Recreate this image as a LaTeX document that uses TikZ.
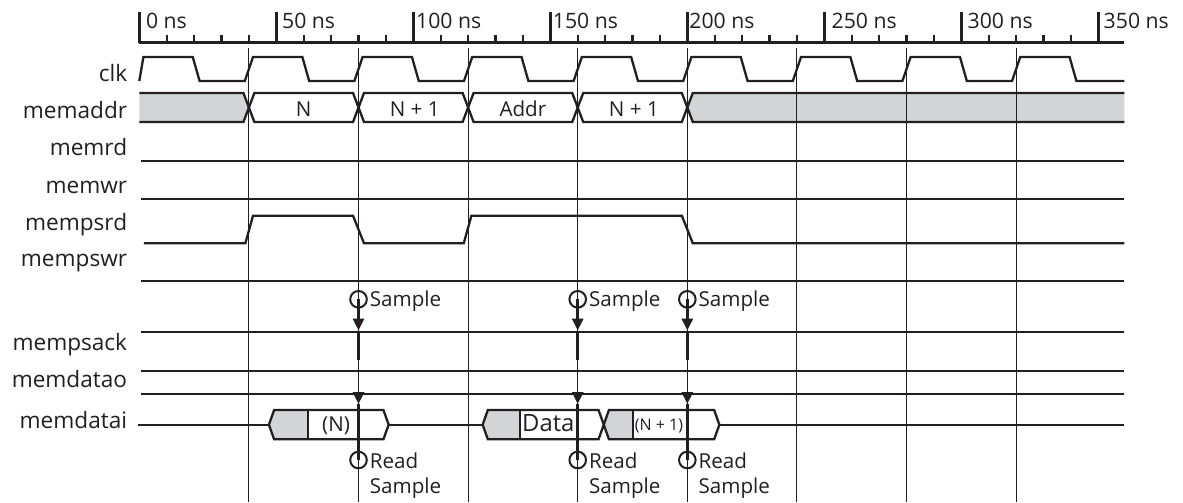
\documentclass[tikz,border=0pt]{standalone}
\usepackage{fontspec}
\setmainfont{Open Sans}
\usetikzlibrary{arrows.meta}
\definecolor{ink}{RGB}{35,31,32}
\definecolor{busgray}{RGB}{211,212,214}

\begin{document}
\begin{tikzpicture}[x=1.37pt, y=-0.5pt, color=ink,
        wave/.style={line width=1.15pt, line join=miter},
        gridline/.style={line width=0.5pt},
        siglabel/.style={anchor=base east, inner sep=0pt, font=\fontsize{11.3}{13}\selectfont},
        timelabel/.style={anchor=base west, inner sep=0pt, font=\fontsize{10.6}{12}\selectfont},
        buslabel/.style={anchor=base, inner sep=0pt, font=\fontsize{10.3}{12}\selectfont},
        smpcircle/.style={draw, circle, line width=1pt, minimum size=8.3pt, inner sep=0pt},
        smptext/.style={anchor=base west, inner sep=0pt, font=\fontsize{10.3}{12}\selectfont},
        smpline/.style={line width=1.75pt},
        smparrow/.style={line width=1.75pt, -{Triangle[length=6pt 0,width=5.5pt 0]}}]
        \useasboundingbox (-50.84,0) rectangle (380.9,502);

        % Draw time ruler
        \draw[line width=1.5pt] (0,43) -- (359.5,43);
        \foreach \t in {10,20,...,340}
            \draw[line width=1.2pt] (\t,35) -- (\t,43);
        \foreach \t/\o in {0/6.4,50/5.5,100/2.5,150/2.2,200/1.7,250/7,300/6,350/5} {
            \draw[line width=1.5pt] (\t,12) -- (\t,43);
            \node[timelabel] at ([xshift=\o*0.5pt]\t,28.3) {\t\ ns};
        }

        % Signal names
        \node[siglabel] (lclk) at (-4.3,81.7) {clk};
        \node[siglabel] (laddr) at (-4.3,118.3) {memaddr};
        \node[siglabel] (lrd) at (-4.3,155) {memrd};
        \node[siglabel] (lwr) at (-4.3,193.3) {memwr};
        \node[siglabel] (lpsrd) at (-4.3,230) {mempsrd};
        \node[siglabel] (lpswr) at (-4.3,266.7) {mempswr};
        \node[siglabel] (lack) at (-4.3,350) {mempsack};
        \node[siglabel] (ldo) at (-4.3,387.3) {memdatao};
        \node[siglabel] (ldi) at (-4.3,428.3) {memdatai};

        % Bus fills
        \fill[busgray] (0,93) -- (38,93) -- (40,107.5) -- (38,122) -- (0,122) -- cycle;
        \fill[busgray] (200,107.5) -- (202,93) -- (359.5,93) -- (359.5,122) -- (202,122) -- cycle;
        \fill[busgray] (47.3,424.7) -- (49.2,410) -- (61.5,410) -- (61.5,439.3) -- (49.2,439.3) -- cycle;
        \fill[busgray] (125.3,424.7) -- (127.2,410) -- (138.9,410) -- (138.9,439.3) -- (127.2,439.3) -- cycle;
        \fill[busgray] (169.5,424.7) -- (171.4,410) -- (180.3,410) -- (180.3,439.3) -- (171.4,439.3) -- cycle;

        % Clock edge lines
        \foreach \t in {40,80,...,320}
            \draw[gridline] (\t,48) -- (\t,502);

        % clk
        \draw[wave] (0,81) foreach \k in {0,...,8} {
            -- (40*\k+1.5,57) -- (40*\k+19.5,57) -- (40*\k+22,81) -- (40*\k+38.5,81)
        } -- (359.5,81);

        % memaddr
        \draw[wave] (0,93) -- (38,93) -- (42,122) -- (78,122) -- (82,93) -- (118,93) -- (122,122)
            -- (158,122) -- (162,93) -- (198,93) -- (202,122) -- (359.5,122);
        \draw[wave] (0,122) -- (38,122) -- (42,93) -- (78,93) -- (82,122) -- (118,122) -- (122,93)
            -- (158,93) -- (162,122) -- (198,122) -- (202,93) -- (359.5,93);
        \node[buslabel] at (60,116.7) {N};
        \node[buslabel] at (100.5,116.7) {N + 1};
        \node[buslabel] at (140,116.7) {Addr};
        \node[buslabel] at (180.5,116.7) {N + 1};

        % memrd, memwr
        \draw[wave] (0.6,160.7) -- (359.5,160.7);
        \draw[wave] (0.6,199) -- (359.5,199);

        % mempsrd
        \draw[wave] (1.7,243.3) -- (38.7,243.3) -- (41.5,215.7) -- (78,215.7) -- (82,243.3)
            -- (118.4,243.3) -- (121.2,215.7) -- (198,215.7) -- (202,243.3) -- (359.5,243.3);

        % mempswr, mempsack, memdatao
        \draw[wave] (0.6,280.7) -- (359.5,280.7);
        \draw[wave] (0.6,332.3) -- (359.5,332.3);
        \draw[wave] (0.6,371) -- (359.5,371);
        \draw[wave] (0.6,393.7) -- (359.5,393.7);

        % memdatai
        \draw[wave] (-0.6,424.7) -- (47.3,424.7);
        \draw[wave] (47.3,424.7) -- (49.2,410) -- (89.1,410) -- (91,424.7) -- (89.1,439.3) -- (49.2,439.3) -- cycle;
        \draw[wave] (61.5,410) -- (61.5,439.3);
        \draw[wave] (91,424.7) -- (125.3,424.7);
        \draw[wave] (125.3,424.7) -- (127.2,410) -- (167.6,410) -- (171.4,439.3) -- (209.8,439.3)
            -- (211.7,424.7) -- (209.8,410) -- (171.4,410) -- (167.6,439.3) -- (127.2,439.3) -- cycle;
        \draw[wave] (138.9,410) -- (138.9,439.3);
        \draw[wave] (180.3,410) -- (180.3,439.3);
        \draw[wave] (211.7,424.7) -- (359.5,424.7);
        \node[buslabel] at (71.8,431.7) {(N)};
        \node[anchor=base west, inner sep=0pt, font=\fontsize{11.9}{13}\selectfont] at (139.6,431.7) {Data};
        \node[anchor=base west, inner sep=0pt, font=\fontsize{8}{9}\selectfont] at (180.7,430) {(N + 1)};

        % Sample points
        \foreach \t/\n in {80/1,160/2,200/3} {
            \node[smpcircle] (up\n) at (\t,299.3) {};
            \node[smptext] at (\t+4,306.5) {Sample};
            \coordinate (up\n m) at (\t,330.5);
            \coordinate (up\n e) at (\t,360);
            \draw[smparrow] (up\n.center) -- (up\n m);
            \draw[smpline] (up\n m) -- (up\n e);

            \node[smpcircle] (lo\n) at (\t,460) {};
            \node[smptext] at (\t+4,468.3) {Read};
            \node[smptext] at (\t+4,493.3) {Sample};
            \coordinate (lo\n s) at (\t,393.5);
            \coordinate (lo\n m) at (\t,404);
            \draw[smparrow] (lo\n s) -- (lo\n m);
            \draw[smpline] (lo\n m) -- (lo\n.center);
        }
\end{tikzpicture}
\end{document}
